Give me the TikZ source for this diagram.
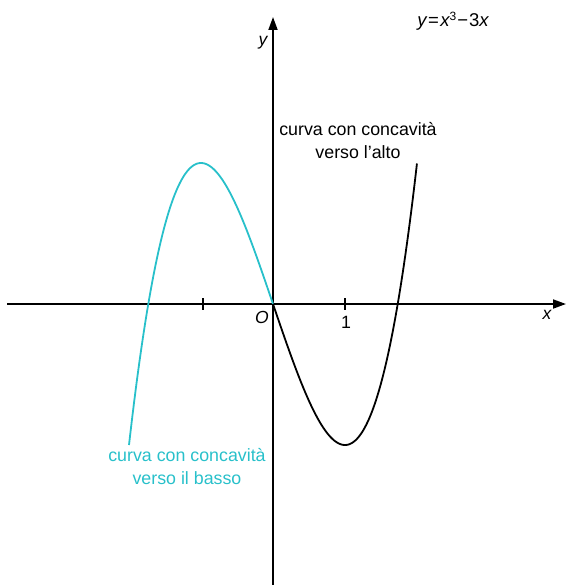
\documentclass[tikz,border=0pt]{standalone}
\usepackage{fontspec}
\setmainfont{Liberation Sans}
\usetikzlibrary{arrows.meta}
\definecolor{cyanc}{RGB}{40,192,202}
\begin{document}
\begin{tikzpicture}[x=1pt,y=-1pt,
  axis/.style={line width=1.8pt,-{Triangle[length=13pt,width=9pt]}},
  tick/.style={line width=1.4pt},
  curve/.style={line width=1.8pt,smooth,samples=120},
  lbl/.style={font=\fontsize{17.8}{23}\selectfont,align=center,inner sep=0pt},
  ax/.style={font=\fontsize{17.5}{20}\selectfont\itshape,inner sep=0pt}]
\useasboundingbox (0,0) rectangle (569,585);
\coordinate (O) at (273,304);
\coordinate (xl) at (7,304);
\coordinate (xr) at (566,304);
\coordinate (yb) at (273,585);
\coordinate (yt) at (273,17);
\draw[axis] (xl) -- (xr);
\draw[axis] (yb) -- (yt);
\coordinate (t1a) at (203,298); \coordinate (t1b) at (203,310);
\coordinate (t2a) at (345,298); \coordinate (t2b) at (345,310);
\draw[tick] (t1a) -- (t1b);
\draw[tick] (t2a) -- (t2b);
\begin{scope}[shift={(O)}]
\begin{scope}[x=72pt,y=70.5pt]
\draw[curve,cyanc,domain=-2:0] plot (\x,{\x*\x*\x-3*\x});
\draw[curve,black,domain=0:2] plot (\x,{\x*\x*\x-3*\x});
\end{scope}
\end{scope}
\node[ax] (ylab) at (263,43) {y};
\node[ax] (xlab) at (547,315) {x};
\node[ax] (olab) at (262,317) {O};
\node[lbl] (one) at (346,322) {1};
\node[lbl,font=\fontsize{18.5}{23}\selectfont] (eq) at (453,21) {{\itshape y}\kern1.5pt=\kern1.5pt{\itshape x}\raisebox{6pt}{\fontsize{12}{12}\selectfont 3}\kern1pt\char"2212\kern1pt3{\itshape x}};
\node[lbl] (up) at (358,141) {curva con concavità\\verso l’alto};
\node[lbl,text=cyanc] (down) at (187,467) {curva con concavità\\verso il basso};
\end{tikzpicture}
\end{document}
